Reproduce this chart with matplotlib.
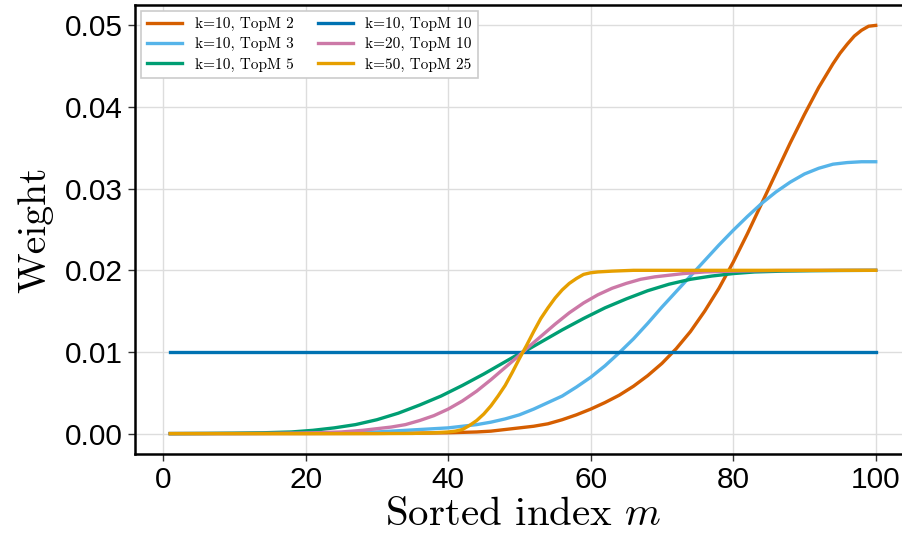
import matplotlib
matplotlib.use("Agg")
import matplotlib.pyplot as plt

# ---- data ----
m_top2 = [1, 20, 30, 35, 40, 42, 44, 46, 48, 50, 52, 54, 56, 58, 60, 62, 64, 66, 68, 70, 72, 74, 76, 78, 80,
          82, 84, 86, 88, 90, 92, 94, 95, 96, 97, 98, 99, 100]
w_top2 = [0.0, 0.0, 0.00002, 0.00005, 0.0001, 0.00015, 0.0002, 0.0003, 0.0005, 0.0007, 0.0009, 0.0012,
          0.0017, 0.0023, 0.0030, 0.0038, 0.0047, 0.0058, 0.0071, 0.0086, 0.0104, 0.0125, 0.0150, 0.0178,
          0.0210, 0.0245, 0.0282, 0.0319, 0.0356, 0.0391, 0.0424, 0.0453, 0.0466, 0.0477, 0.0487, 0.0494,
          0.0499, 0.0500]

m_top3 = [1, 10, 20, 25, 30, 32, 34, 36, 38, 40, 42, 44, 46, 48, 50, 52, 54, 56, 58, 60, 62, 64, 66, 68, 70,
          72, 74, 76, 78, 80, 82, 84, 86, 88, 90, 92, 94, 96, 98, 100]
w_top3 = [0.0, 0.00001, 0.00005, 0.0001, 0.0002, 0.0003, 0.0004, 0.0005, 0.0006, 0.0007, 0.0009, 0.0011,
          0.0014, 0.0018, 0.0023, 0.0030, 0.0038, 0.0046, 0.0057, 0.0069, 0.0083, 0.0099, 0.0116, 0.0135,
          0.0155, 0.0174, 0.0193, 0.0212, 0.0231, 0.0249, 0.0266, 0.0282, 0.0296, 0.0308, 0.0318, 0.0325,
          0.0330, 0.0332, 0.0333, 0.0333]

m_top5 = [1, 6, 10, 14, 18, 21, 24, 27, 30, 33, 36, 39, 42, 45, 48, 50, 51, 53, 56, 59, 62, 65, 68, 71, 74,
          77, 80, 83, 87, 91, 95, 100]
w_top5 = [0.0, 0.00002, 0.00005, 0.0001, 0.0002, 0.0004, 0.0007, 0.0011, 0.0017, 0.0025, 0.0035, 0.0046,
          0.0059, 0.0073, 0.0088, 0.0098, 0.0102, 0.0112, 0.0127, 0.0141, 0.0154, 0.0165, 0.0175, 0.0183,
          0.0189, 0.0193, 0.0196, 0.0198, 0.0199, 0.01995, 0.01998, 0.0200]

m_k10_top10 = [1, 100]
w_k10_top10 = [0.01, 0.01]

m_k20_top10 = [1, 10, 15, 19, 22, 25, 28, 30, 32, 34, 36, 38, 40, 42, 44, 46, 48, 50, 51, 53, 55, 57, 59,
               61, 63, 65, 67, 69, 71, 73, 76, 79, 82, 86, 91, 100]
w_k20_top10 = [0.0, 0.00001, 0.00003, 0.00007, 0.00012, 0.0002, 0.0004, 0.0006, 0.0008, 0.0011, 0.0016,
               0.0022, 0.0030, 0.0040, 0.0052, 0.0066, 0.0081, 0.0096, 0.0104, 0.0119, 0.0134, 0.0148,
               0.0160, 0.0170, 0.0178, 0.0184, 0.0189, 0.0192, 0.0194, 0.0196, 0.0198, 0.01988, 0.01993,
               0.01997, 0.01999, 0.0200]

m_k50_top25 = [1, 30, 35, 38, 39, 40, 41, 42, 43, 44, 45, 46, 47, 48, 49, 50, 51, 52, 53, 54, 55, 56, 57, 58,
               59, 60, 61, 62, 63, 66, 100]
w_k50_top25 = [0.0, 0.0, 0.00002, 0.0001, 0.00015, 0.0002, 0.0003, 0.0005, 0.0010, 0.0016, 0.0024, 0.0034,
               0.0046, 0.0059, 0.0075, 0.0092, 0.0108, 0.0125, 0.0141, 0.0154, 0.0166, 0.0176, 0.0184,
               0.0190, 0.0195, 0.0197, 0.0198, 0.01985, 0.0199, 0.0200, 0.0200]

labels = ["k=10, TopM 2", "k=10, TopM 3", "k=10, TopM 5",
          "k=10, TopM 10", "k=20, TopM 10", "k=50, TopM 25"]
colors = ["#D55E00", "#56B4E9", "#009E73", "#0072B2", "#CC79A7", "#E69F00"]
xticks = [0, 20, 40, 60, 80, 100]
yticks = [0.00, 0.01, 0.02, 0.03, 0.04, 0.05]

series = [(m_top2, w_top2), (m_top3, w_top3), (m_top5, w_top5),
          (m_k10_top10, w_k10_top10), (m_k20_top10, w_k20_top10), (m_k50_top25, w_k50_top25)]

plt.rcParams["mathtext.fontset"] = "cm"

fig = plt.figure(figsize=(9.02, 5.43), dpi=100)
ax = fig.add_axes([135 / 902, 1 - 454 / 543, (911 - 135) / 902, (454 - 5) / 543])

for (mx, wy), lab, col in zip(series, labels, colors):
    ax.plot(mx, wy, color=col, lw=2.4, label=lab, solid_joinstyle="round")

ax.set_xlim(-3.95, 104.95)
ax.set_ylim(-0.0025, 0.0525)
ax.set_xticks(xticks)
ax.set_yticks(yticks)
ax.set_xticklabels([str(v) for v in xticks], fontfamily="Liberation Sans", fontsize=21.5)
ax.set_yticklabels([f"{v:.2f}" for v in yticks], fontfamily="Liberation Sans", fontsize=21.5)
ax.grid(True, color="#dddddd", lw=1.0)
ax.set_axisbelow(True)
ax.tick_params(direction="out", length=5, width=1, color="#333333", pad=4)

for s in ["left", "bottom", "top"]:
    ax.spines[s].set_linewidth(1.8)
    ax.spines[s].set_color("black")
ax.spines["right"].set_visible(False)

ax.set_xlabel(r"Sorted index $m$", fontfamily="cmr10", fontsize=29.5, labelpad=2)
ax.set_ylabel("Weight", fontfamily="cmr10", fontsize=28.5, labelpad=8)

leg = ax.legend(loc="upper left", ncol=2, prop={"family": "cmr10", "size": 11},
                frameon=True, fancybox=False, edgecolor="#cccccc", framealpha=1.0,
                handlelength=2.3, columnspacing=1.6, borderaxespad=0.4, handletextpad=0.8,
                labelspacing=0.4)
leg.get_frame().set_linewidth(1.2)

fig.savefig("out.png", dpi=100)
